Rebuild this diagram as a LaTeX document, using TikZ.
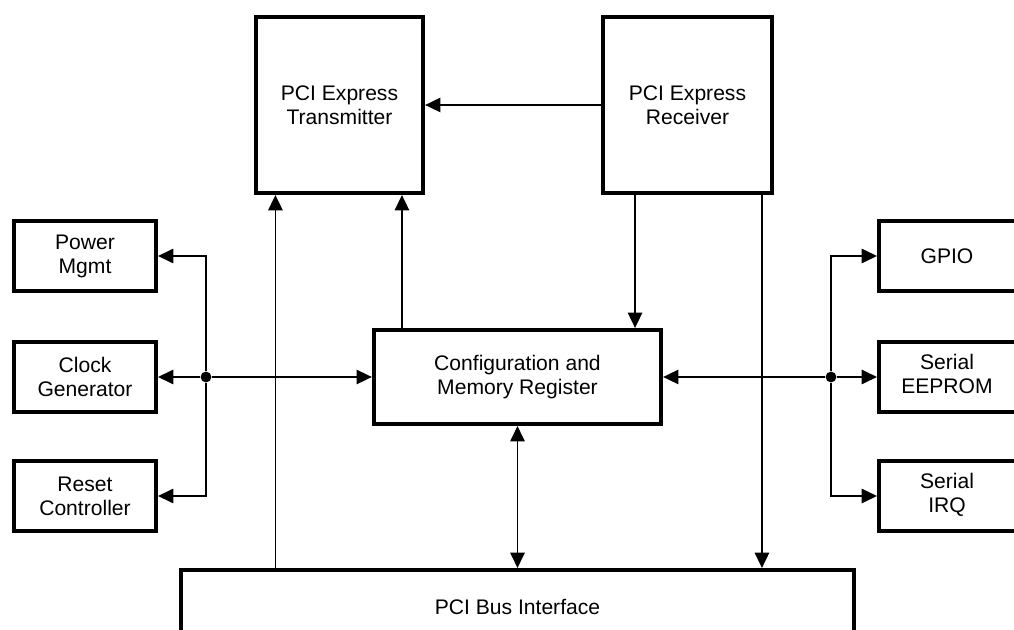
\documentclass[tikz,border=0pt]{standalone}
\usepackage{fontspec}
\setmainfont{Liberation Sans}
\usetikzlibrary{arrows.meta}
\tikzset{
    block/.style={
        draw,
        line width=2.9pt,
        align=center,
        inner sep=0pt,
        font=\fontsize{15}{17}\selectfont
    },
    sidebox/.style={
        block,
        minimum width=3.55cm,
        minimum height=1.75cm
    },
    link/.style={
        line width=0.9pt
    },
    junction/.style={
        circle,
        fill,
        inner sep=0pt,
        minimum size=0.27cm
    }
}

\begin{document}
\begin{tikzpicture}[x=0.025cm,y=-0.025cm,>={Triangle[length=0.38cm,width=0.36cm]}]
\useasboundingbox (0,0) rectangle (1014,630);
\node[block,minimum width=4.18cm,minimum height=4.4cm] (tx) at (339.5,105) {PCI Express\\Transmitter};
\node[block,minimum width=4.22cm,minimum height=4.4cm] (rx) at (687.5,105) {PCI Express\\Receiver};
\node[sidebox] (pm) at (85,256) {Power\\Mgmt};
\node[sidebox] (clk) at (85,377) {Clock\\Generator};
\node[sidebox] (rst) at (85,496) {Reset\\Controller};
\node[block,minimum width=7.18cm,minimum height=2.35cm] (cfg) at (517.5,377) {Configuration and\\Memory Register};
\node[sidebox,minimum width=4.9cm] (gpio) at (977,256) {\hspace*{-1.5cm}GPIO};
\node[sidebox,minimum width=4.9cm] (eep) at (977,377) {\hspace*{-1.5cm}\begin{tabular}{@{}c@{}}Serial\\EEPROM\end{tabular}};
\node[sidebox,minimum width=4.9cm] (irq) at (977,496) {\hspace*{-1.5cm}\begin{tabular}{@{}c@{}}Serial\\IRQ\end{tabular}};
\node[block,minimum width=16.83cm,minimum height=1.85cm] (bus) at (517.5,607) {PCI Bus Interface};
\node[junction] (jl) at (206,377) {};
\node[junction] (jr) at (831,377) {};
\coordinate (t1) at ([xshift=0.54cm]tx.south west);
\coordinate (t2) at ([xshift=-0.58cm]tx.south east);
\coordinate (r1) at ([xshift=0.85cm]rx.south west);
\coordinate (r2) at ([xshift=-0.3cm]rx.south east);
\path[link,->]
  (rx) edge (tx)
  (t1 |- bus.north) edge (t1)
  (t2 |- cfg.north) edge (t2)
  (r1) edge (r1 |- cfg.north)
  (r2) edge (r2 |- bus.north);
\path[link,<->]
  (cfg) edge (bus);
\path[link,->]
  (jl) edge (clk)
  (jl) edge (cfg)
  (jl) edge[to path={|- (\tikztotarget)}] (pm)
  (jl) edge[to path={|- (\tikztotarget)}] (rst);
\path[link,->]
  (jr) edge (eep)
  (jr) edge (cfg)
  (jr) edge[to path={|- (\tikztotarget)}] (gpio)
  (jr) edge[to path={|- (\tikztotarget)}] (irq);
\end{tikzpicture}
\end{document}
